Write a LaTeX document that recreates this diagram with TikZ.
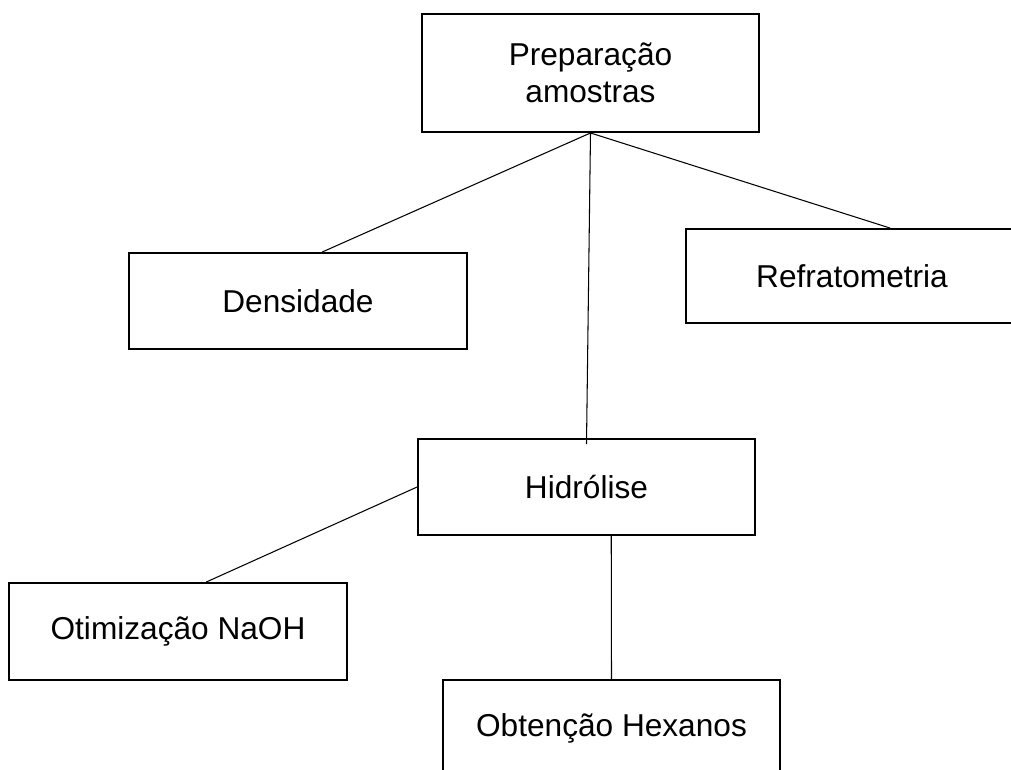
\documentclass[tikz,border=0pt]{standalone}
\usepackage{fontspec}
\setmainfont{Liberation Sans}
\usetikzlibrary{calc}

\begin{document}
\begin{tikzpicture}[x=0.02cm,y=-0.02cm,
    etapa/.style={draw,line width=1.1pt,inner sep=0pt,align=center,
      font=\fontsize{18}{21}\selectfont},
    liga/.style={line width=0.6pt}]
        \clip (0,0) rectangle (1011,769);
        \node[etapa,minimum width=6.74cm,minimum height=2.36cm] (prep) at (590.5,73) {Prepara\c{c}\~ao\\amostras};
        \node[etapa,minimum width=6.76cm,minimum height=1.92cm] (dens) at (298,301) {Densidade};
        \node[etapa,minimum width=6.64cm,minimum height=1.88cm] (refr) at (852,276) {Refratometria};
        \node[etapa,minimum width=6.74cm,minimum height=1.92cm] (hidr) at (586.5,487) {Hidr\'olise};
        \node[etapa,minimum width=6.76cm,minimum height=1.94cm] (otim) at (178,631.5) {Otimiza\c{c}\~ao NaOH};
        \node[etapa,minimum width=6.74cm,minimum height=1.92cm] (obt) at (611.5,728) {Obten\c{c}\~ao Hexanos};
\draw[liga] (prep.south) -- ($(dens.north west)!0.571!(dens.north east)$);
\draw[liga] (prep.south) -- ($(refr.north west)!0.614!(refr.north east)$);
\draw[liga] (prep.south) -- ($(hidr.north)+(0,6)$);
\draw[liga] (hidr.west) -- ($(otim.north west)!0.583!(otim.north east)$);
\draw[liga] ($(hidr.south west)!0.573!(hidr.south east)$) -- (obt.north);
           \end{tikzpicture}
\end{document}
